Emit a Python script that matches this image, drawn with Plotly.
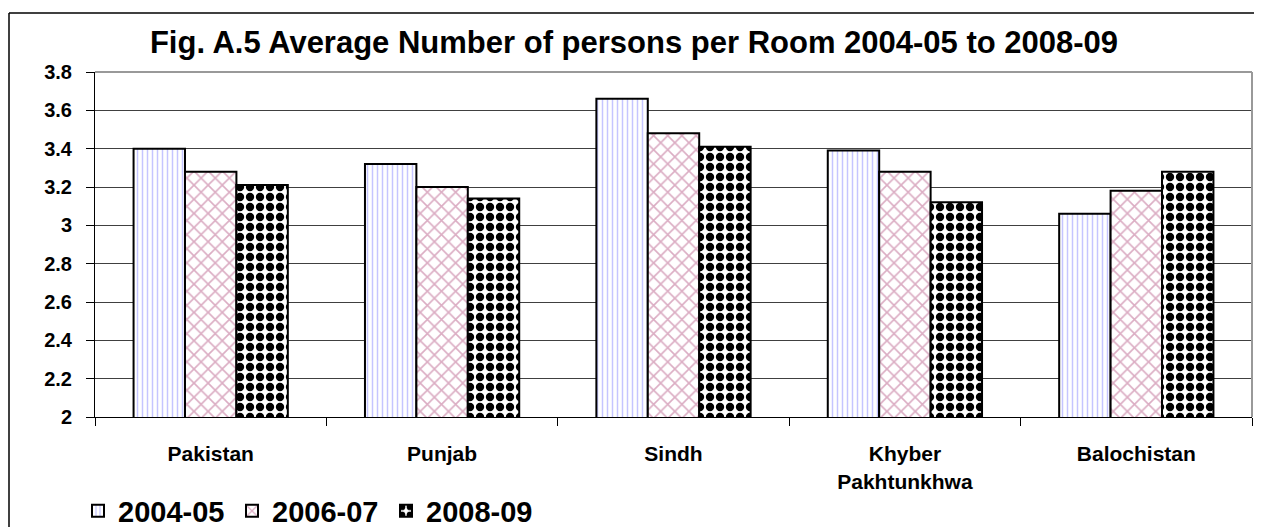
import plotly.graph_objects as go

categories = ["Pakistan", "Punjab", "Sindh", "Khyber<br>Pakhtunkhwa", "Balochistan"]
series_names = ["2004-05", "2006-07", "2008-09"]
v_2004_05 = [3.40, 3.32, 3.66, 3.39, 3.06]
v_2006_07 = [3.28, 3.20, 3.48, 3.28, 3.18]
v_2008_09 = [3.21, 3.14, 3.41, 3.12, 3.28]
y_ticks = [2, 2.2, 2.4, 2.6, 2.8, 3, 3.2, 3.4, 3.6, 3.8]
y_tick_labels = ["2", "2.2", "2.4", "2.6", "2.8", "3", "3.2", "3.4", "3.6", "3.8"]

FONT = "Arial, 'Liberation Sans', sans-serif"

patterns = [
    dict(shape="|", fgcolor="#8c8cff", bgcolor="white", size=5, solidity=0.3, fillmode="overlay"),
    dict(shape="x", fgcolor="#b85c88", bgcolor="white", size=10, solidity=0.3, fillmode="overlay"),
    dict(shape=".", fgcolor="black", fgopacity=1, bgcolor="white", size=10, solidity=0.55, fillmode="overlay"),
]

fig = go.Figure()
for name, vals, pat in zip(series_names, [v_2004_05, v_2006_07, v_2008_09], patterns):
    fig.add_trace(go.Bar(
        name="<b>%s</b>" % name, x=categories, y=vals,
        marker=dict(color="white", pattern=pat, line=dict(color="black", width=2)),
    ))

# page has an 8px body margin; work in page pixel coordinates and convert
OFF = 8
W, H = 1262 - OFF, 527 - OFF
PL, PR, PT, PB = 95, 1252, 72, 417  # plot area in page pixels
L, T = PL - OFF, PT - OFF
R = W - (PR - OFF)
B = H - (PB - OFF)
pw, ph = W - L - R, H - T - B

def px_x(x):
    return (x - OFF - L) / pw

def px_y(y):
    return (PB - y) / ph

fig.update_layout(
    width=W, height=H,
    margin=dict(l=L, r=R, t=T, b=B, autoexpand=False),
    paper_bgcolor="white", plot_bgcolor="white",
    barmode="group", bargap=1/3, bargroupgap=0,
    font=dict(family=FONT, color="black"),
    title=dict(text="<b>Fig. A.5 Average Number of persons per Room 2004-05 to 2008-09</b>",
               x=(634 - OFF) / W, xanchor="center", y=1 - (42 - OFF) / H, yanchor="middle",
               font=dict(size=31, family=FONT, color="black")),
    showlegend=True,
    legend=dict(orientation="h", x=px_x(78), xanchor="left", y=px_y(511), yanchor="middle",
                font=dict(size=29, family=FONT, color="black"),
                entrywidth=109, entrywidthmode="pixels", itemwidth=30,
                bgcolor="rgba(0,0,0,0)", traceorder="normal"),
    xaxis=dict(type="category", showgrid=False, showline=True, linecolor="black", linewidth=1,
               ticks="outside", tickson="boundaries", ticklen=8, tickcolor="black",
               tickfont=dict(size=21, family=FONT, color="black"),
               ticklabelstandoff=18,
               tickvals=categories, ticktext=["<b>%s</b>" % c for c in categories]),
    yaxis=dict(range=[2, 3.8], tickvals=y_ticks, ticktext=["<b>%s</b>" % t for t in y_tick_labels],
               showgrid=True, gridcolor="#404040", gridwidth=1,
               showline=True, linecolor="black", linewidth=1,
               ticks="outside", ticklen=8, tickcolor="black", ticklabelstandoff=10,
               tickfont=dict(size=20, family=FONT, color="black"), zeroline=False),
    shapes=[
        dict(type="line", xref="paper", yref="paper", x0=0, x1=1, y0=1, y1=1,
             line=dict(color="#999999", width=2)),
        dict(type="line", xref="paper", yref="paper", x0=1, x1=1, y0=0, y1=1,
             line=dict(color="#999999", width=2)),
        # outer frame (top and left)
        dict(type="line", xref="paper", yref="paper", x0=px_x(9), x1=px_x(1280),
             y0=px_y(13), y1=px_y(13), line=dict(color="black", width=1.5)),
        dict(type="line", xref="paper", yref="paper", x0=px_x(9), x1=px_x(9),
             y0=px_y(13), y1=px_y(560), line=dict(color="black", width=1.5)),
    ],
)

fig.write_html("out.html")
